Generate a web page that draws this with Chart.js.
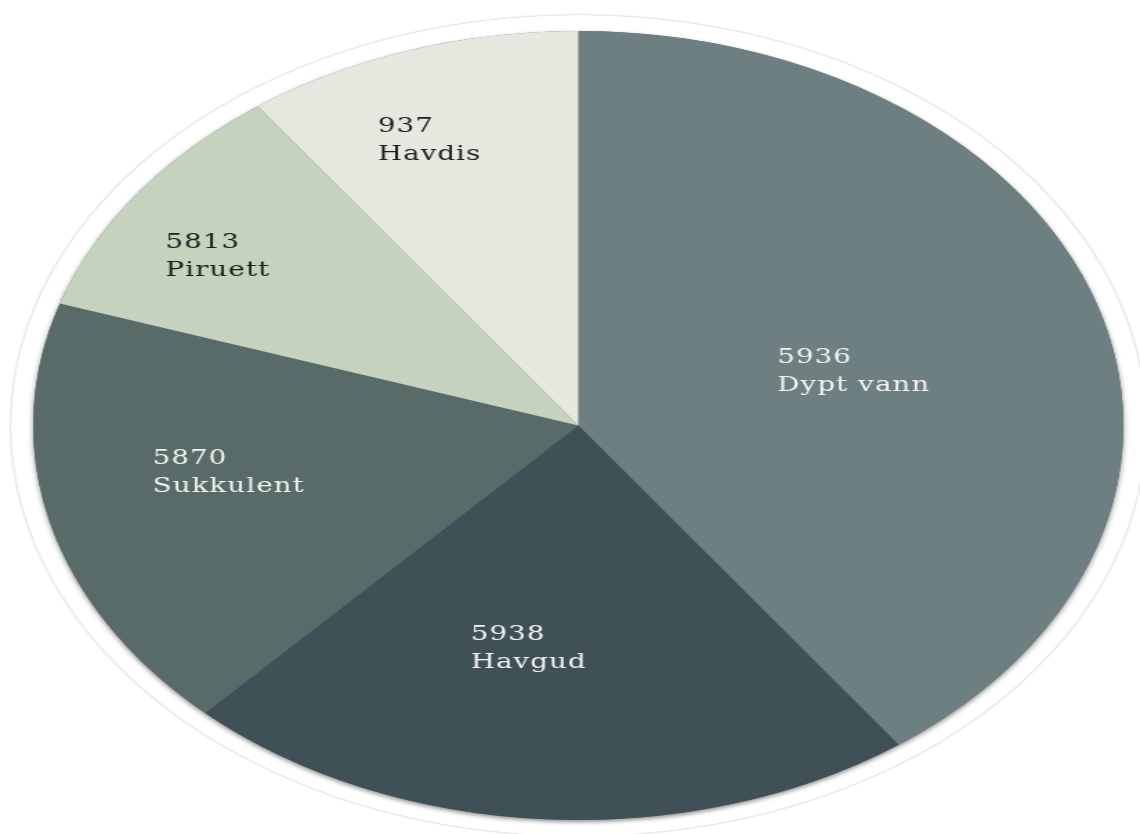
<!DOCTYPE html>
<html lang="no">

<head>
    <meta charset="UTF-8">
    <title>Fargekart</title>
    <script src="https://cdn.jsdelivr.net/npm/chart.js"></script>
    <style>
        body {
            margin: 0;
            background: #ffffff;
        }
        #pie {
            display: block;
        }
    </style>
</head>

<body>
    <!-- canvas is drawn narrow and stretched sideways, like the reference -->
    <canvas id="pie" width="825" height="834" style="width: 1140px; height: 834px;"></canvas>

    <script>
        // data
        const names = ['Dypt vann', 'Havgud', 'Sukkulent', 'Piruett', 'Havdis'];
        const codes = ['5936', '5938', '5870', '5813', '937'];
        const shares = [40, 22, 18, 10, 10];

        // styles
        const sliceColors = ['#6d7f80', '#3f5056', '#596b68', '#c4d2be', '#e7e6df'];
        const textColors = ['#f4f4f2', '#f4f4f2', '#f4f4f2', '#1c1c1c', '#1c1c1c'];
        // where the text starts: fraction of radius and turn (deg) from slice middle
        const labelDist = [0.39, 0.60, 0.79, 0.87, 0.81];
        const labelTurn = [-2.6, 15.6, 5.6, -6.5, -9];

        // white ring + soft shadow behind the pie
        const backdrop = {
            id: 'backdrop',
            beforeDatasetsDraw(chart) {
                const arc = chart.getDatasetMeta(0).data[0];
                if (!arc) return;
                const ctx = chart.ctx;
                const { x, y, outerRadius } = arc;
                ctx.save();
                ctx.beginPath();
                ctx.arc(x, y, outerRadius + 16, 0, Math.PI * 2);
                ctx.fillStyle = '#ffffff';
                ctx.shadowColor = 'rgba(0,0,0,0.35)';
                ctx.shadowBlur = 2;
                ctx.fill();
                ctx.beginPath();
                ctx.arc(x, y, outerRadius, 0, Math.PI * 2);
                ctx.fillStyle = '#5a6a6a';
                ctx.shadowColor = 'rgba(0,0,0,0.45)';
                ctx.shadowBlur = 4;
                ctx.shadowOffsetY = 2;
                ctx.fill();
                ctx.restore();
            }
        };

        // two line labels, left aligned
        const sliceLabels = {
            id: 'sliceLabels',
            afterDatasetsDraw(chart) {
                const ctx = chart.ctx;
                ctx.save();
                ctx.font = '20px "DejaVu Serif", serif';
                ctx.letterSpacing = '0.8px';
                ctx.textAlign = 'left';
                ctx.textBaseline = 'middle';
                chart.getDatasetMeta(0).data.forEach(function (arc, i) {
                    const a = (arc.startAngle + arc.endAngle) / 2 + labelTurn[i] * Math.PI / 180;
                    const d = arc.outerRadius * labelDist[i];
                    const tx = arc.x + Math.cos(a) * d;
                    const ty = arc.y + Math.sin(a) * d;
                    ctx.fillStyle = textColors[i];
                    ctx.fillText(codes[i], tx, ty - 14);
                    ctx.fillText(names[i], tx, ty + 14);
                });
                ctx.restore();
            }
        };

        new Chart(document.getElementById('pie'), {
            type: 'pie',
            data: {
                labels: names,
                datasets: [{
                    data: shares,
                    backgroundColor: sliceColors,
                    borderWidth: 0
                }]
            },
            options: {
                responsive: false,
                animation: false,
                layout: {
                    padding: { left: 24, right: 12, top: 31, bottom: 14 }
                },
                plugins: {
                    legend: { display: false },
                    tooltip: { enabled: false }
                }
            },
            plugins: [backdrop, sliceLabels]
        });
    </script>

</body>

</html>
